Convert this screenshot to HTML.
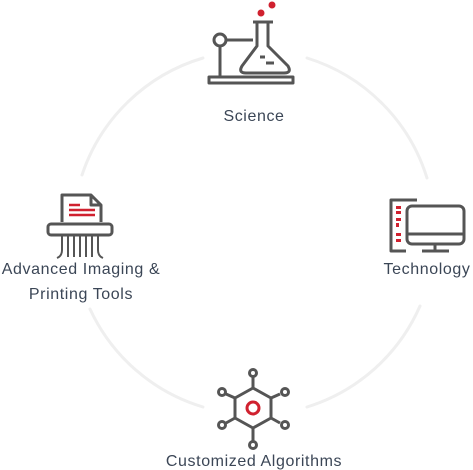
<!DOCTYPE html>
<html><head><meta charset="utf-8"><style>
html,body{margin:0;padding:0;background:#fff;}
svg{display:block;}
text{font-family:"Liberation Sans",sans-serif;font-size:16px;letter-spacing:0.6px;fill:#3b4656;}
</style></head><body>
<svg width="473" height="470" viewBox="0 0 473 470">
<g fill="none" stroke="#efefef" stroke-width="3" stroke-linecap="round">
<path d="M307 58 A182 182 0 0 1 427 178"/>
<path d="M420 306 A182 182 0 0 1 307 407"/>
<path d="M203 407 A182 182 0 0 1 90 309"/>
<path d="M82 175 A182 182 0 0 1 203 58"/>
</g>
<!-- Science -->
<g fill="none" stroke="#555" stroke-width="3" stroke-linejoin="round">
<circle cx="220" cy="40" r="6"/>
<line x1="226" y1="40" x2="253" y2="40"/>
<line x1="220" y1="46" x2="220" y2="77"/>
<rect x="209" y="77" width="84" height="6"/>
<line x1="253" y1="22" x2="273" y2="22"/>
<path d="M257 22 V46 L242 66 Q238 73 246 73 H284 Q292 73 288 66 L268 46 V22"/>
<line x1="260" y1="57" x2="265" y2="57"/>
<line x1="266" y1="63" x2="274" y2="63"/>
</g>
<circle cx="261" cy="13" r="3.5" fill="#d0212f"/>
<circle cx="272" cy="5" r="3.5" fill="#d0212f"/>
<text x="254" y="121" text-anchor="middle">Science</text>
<!-- Shredder -->
<g fill="none" stroke="#555" stroke-width="3" stroke-linejoin="round">
<path d="M62 222 V195 H91 L101 205 V222"/>
<path d="M91 195 V205 H101"/>
<rect x="48" y="224" width="64" height="11" rx="3"/>
<path d="M62 235 V250 Q62 256 57 258 M68 235 V257 M74 235 V257 M80 235 V257 M86 235 V257 M92 235 V257 M98 235 V250 Q98 256 103 258" stroke-width="2"/>
</g>
<g stroke="#d0212f" stroke-width="2.5">
<line x1="69" y1="205" x2="80" y2="205"/>
<line x1="69" y1="210" x2="95" y2="210"/>
<line x1="69" y1="215" x2="95" y2="215"/>
</g>
<text x="81" y="274" text-anchor="middle">Advanced Imaging &amp;</text>
<text x="81" y="299" text-anchor="middle">Printing Tools</text>
<!-- Technology -->
<g fill="none" stroke="#555" stroke-width="3" stroke-linejoin="round">
<path d="M417 200 H391 V251 H406"/>
<rect x="407" y="206" width="57" height="38" rx="5"/>
<line x1="407" y1="234" x2="464" y2="234"/>
<line x1="435" y1="244" x2="435" y2="250"/>
<line x1="422" y1="251" x2="449" y2="251"/>
</g>
<g fill="#d0212f">
<rect x="396" y="206" width="5" height="3"/><rect x="396" y="211" width="5" height="3"/>
<rect x="396" y="218" width="5" height="3"/><rect x="396" y="223" width="3" height="4"/>
<rect x="396" y="233" width="5" height="3"/><rect x="396" y="239" width="5" height="3"/>
</g>
<text x="427" y="274" text-anchor="middle">Technology</text>
<!-- Algorithms -->
<g fill="none" stroke="#555" stroke-width="3" stroke-linejoin="round">
<polygon points="253,388 271,398 271,418 253,428 235,418 235,398"/>
<line x1="253" y1="388" x2="253" y2="377"/><circle cx="253" cy="373" r="3.5"/>
<line x1="253" y1="428" x2="253" y2="441"/><circle cx="253" cy="445" r="3.5"/>
<line x1="235" y1="398" x2="226" y2="394"/><circle cx="222" cy="392" r="3.5"/>
<line x1="271" y1="398" x2="280" y2="394"/><circle cx="285" cy="392" r="3.5"/>
<line x1="235" y1="418" x2="226" y2="423"/><circle cx="222" cy="425" r="3.5"/>
<line x1="271" y1="418" x2="280" y2="423"/><circle cx="285" cy="425" r="3.5"/>
</g>
<circle cx="253" cy="408" r="6" fill="none" stroke="#d0212f" stroke-width="3"/>
<text x="254" y="466" text-anchor="middle">Customized Algorithms</text>
</svg>
</body></html>
